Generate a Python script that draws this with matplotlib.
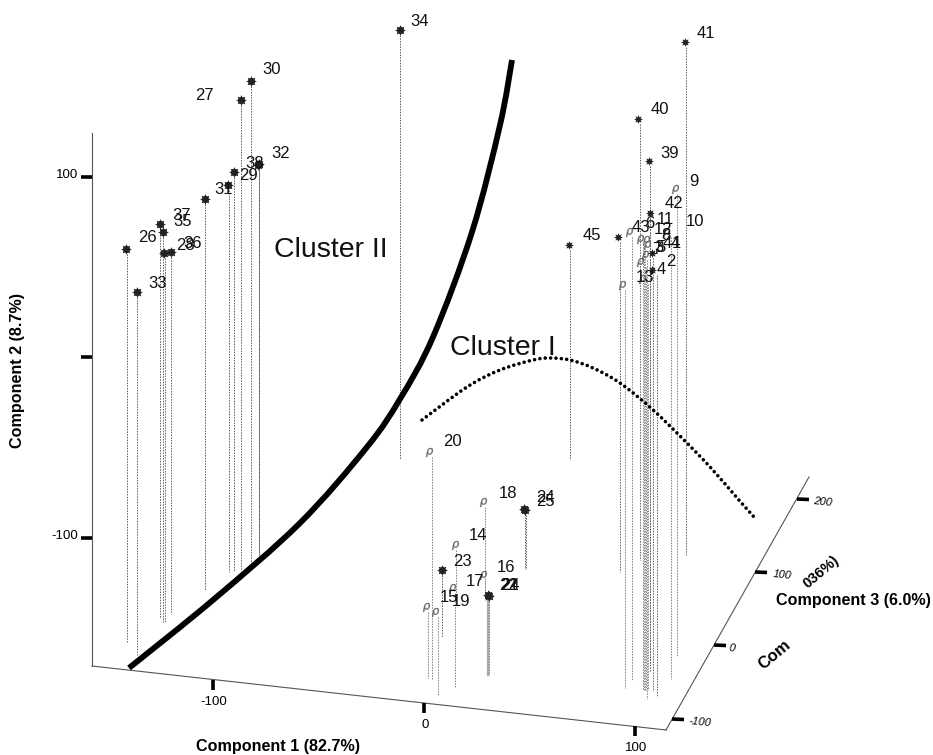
import matplotlib
matplotlib.use("Agg")
import matplotlib.pyplot as plt
from matplotlib.path import Path
from matplotlib.patches import PathPatch

plt.rcParams['font.family'] = ['Liberation Sans', 'DejaVu Sans']

# Projected 3-D scores (screen pixels of the printed plot)
big_x = [400, 251, 241, 259, 258, 234, 228, 205, 160, 163, 164, 171, 126, 137, 442, 524, 525, 488, 489]
big_y = [30, 81, 100, 164, 165, 172, 185, 199, 224, 232, 253, 252, 249, 292, 570, 509, 510, 595, 596]
big_stem = [400, 251, 241, 259, 259, 234, 229, 205, 160, 163, 165, 171, 127, 137, 442, 525, 526, 488, 489]
big_base = [459, 565, 570, 555, 555, 571, 572, 590, 618, 622, 622, 614, 642, 655, 637, 569, 569, 675, 675]

small_x = [569, 685, 638, 649, 650, 618, 652, 652]
small_y = [245, 42, 119, 161, 213, 237, 253, 270]
small_stem = [570, 686, 640, 650, 650, 620, 653, 657]
small_base = [460, 556, 560, 672, 665, 572, 691, 696]

open_x = [429, 483, 455, 483, 452, 426, 435, 675, 629, 622, 640, 647, 640, 645, 642, 666, 646]
open_y = [452, 502, 545, 575, 588, 607, 612, 189, 232, 285, 239, 245, 262, 255, 279, 232, 240]
open_stem = [432, 485, 456, 485, 455, 428, 438, 677, 632, 625, 643, 645, 646, 647, 648, 671, 644]
open_base = [680, 595, 600, 600, 687, 678, 695, 657, 680, 688, 690, 690, 690, 699, 690, 679, 690]

label_text = ['34', '41', '30', '27', '40', '39', '38', '32', '29', '31', '37', '35', '26', '28', '36', '33',
              '9', '42', '11', '10', '45', '43', '6', '12', '8', '5', '3', '7', '44', '2', '4', '13', '1',
              '20', '18', '24', '25', '14', '23', '17', '16', '22', '21', '24', '15', '19']
label_x = [420, 706, 272, 204, 660, 670, 255, 281, 249, 224, 182, 183, 147, 185, 193, 158,
           694, 674, 665, 695, 592, 641, 650, 663, 666, 661, 659, 657, 672, 671, 661, 645, 676,
           452, 508, 545, 545, 478, 462, 475, 506, 509, 509, 510, 449, 461]
label_y = [22, 33, 70, 96, 110, 153, 163, 154, 175, 190, 216, 222, 238, 245, 244, 283,
           181, 204, 220, 221, 235, 227, 224, 229, 235, 247, 247, 249, 244, 262, 270, 277, 244,
           442, 493, 497, 501, 536, 561, 581, 568, 585, 585, 586, 597, 601]

boundary_x = [129, 213, 300, 367, 400, 433, 472, 500, 512]
boundary_y = [668, 600, 523, 447, 399, 337, 232, 125, 60]
arc_x = [422, 467, 500, 533, 550, 570, 593, 620, 652, 682, 711, 738, 754]
arc_y = [420, 387, 370, 360, 358, 360, 368, 383, 409, 438, 468, 499, 517]

axis1_x = [92, 666]
axis1_y = [666, 730]
axis2_x = [92, 92]
axis2_y = [133, 666]
axis3_x = [666, 809]
axis3_y = [730, 477]


def smooth_path(xs, ys):
    """Catmull-Rom curve through the read points, as Bezier segments."""
    pts = list(zip(xs, ys))
    verts = [pts[0]]
    codes = [Path.MOVETO]
    for i in range(len(pts) - 1):
        p0 = pts[max(i - 1, 0)]
        p1 = pts[i]
        p2 = pts[i + 1]
        p3 = pts[min(i + 2, len(pts) - 1)]
        c1 = (p1[0] + (p2[0] - p0[0]) / 6, p1[1] + (p2[1] - p0[1]) / 6)
        c2 = (p2[0] - (p3[0] - p1[0]) / 6, p2[1] - (p3[1] - p1[1]) / 6)
        verts += [c1, c2, p2]
        codes += [Path.CURVE4] * 3
    return Path(verts, codes)


fig = plt.figure(figsize=(9.33, 7.55), dpi=100)
ax = fig.add_axes([0, 0, 1, 1])
ax.set_xlim(0, 933)
ax.set_ylim(755, 0)
ax.axis('off')

for xs, ys, base, col in [(big_stem, big_y, big_base, '#666666'),
                          (small_stem, small_y, small_base, '#666666'),
                          (open_stem, open_y, open_base, '#888888')]:
    for s, y, b in zip(xs, ys, base):
        ax.plot([s, s], [y + 5, b], color=col, lw=0.7, ls=(0, (1.6, 1.2)), zorder=1)
ax.plot([488, 488], [600, 675], color='#aaaaaa', lw=1.6, zorder=1)

for a, b in [(axis1_x, axis1_y), (axis2_x, axis2_y), (axis3_x, axis3_y)]:
    ax.plot(a, b, color='#555555', lw=0.8, zorder=2)

# Y ticks
for lab, y in zip(['100', '', '-100'], [177, 357, 538]):
    ax.plot([81, 92], [y, y], color='k', lw=2.6, solid_capstyle='butt', zorder=3)
    if lab:
        ax.text(78, y - 2, lab, ha='right', va='center', fontsize=9.5)
# X ticks
for lab, x, y0 in zip(['-100', '0', '100'], [213, 424, 635], [680, 703, 726]):
    ax.plot([x, x], [y0, y0 + 10], color='k', lw=2.6, solid_capstyle='butt', zorder=3)
    ax.text(x + 1, y0 + 22, lab, ha='center', va='center', fontsize=9.5)
# Z ticks
for lab, x, y, lx in zip(['-100', '0', '100', '200'], [672, 714, 755, 797], [719, 645, 572, 499], [700, 732, 782, 823]):
    ax.plot([x, x + 12], [y, y + 0.5], color='k', lw=2.6, solid_capstyle='butt', zorder=3)
    ax.text(lx, y + 3, lab, ha='center', va='center', fontsize=8, style='italic', rotation=-6)

ax.add_patch(PathPatch(smooth_path(boundary_x, boundary_y), fc='none', ec='k', lw=4.2, capstyle='butt', zorder=4))
ax.add_patch(PathPatch(smooth_path(arc_x, arc_y), fc='none', ec='k', lw=2.6, ls=(0, (0.01, 1.48)), capstyle='round', zorder=4))

ax.plot(open_x, open_y, ls='none', marker='$\\rho$', ms=6.5, color='#666666', mew=0.2, zorder=5)
ax.plot(small_x, small_y, ls='none', marker=(8, 1, 0), ms=5.5, mfc='#222222', mec='#222222', mew=0.4, zorder=5)
ax.plot(big_x, big_y, ls='none', marker=(8, 1, 0), ms=7, mfc='#222222', mec='#222222', mew=0.4, zorder=5)
ax.plot(big_x, big_y, ls='none', marker='o', ms=5, mfc='#222222', mec='none', zorder=5)

for t, x, y in zip(label_text, label_x, label_y):
    ax.text(x, y, t, ha='center', va='center', fontsize=12, color='#111111', zorder=6)

ax.text(331, 250, 'Cluster II', ha='center', va='center', fontsize=20.5, color='#111111')
ax.text(503, 348, 'Cluster I', ha='center', va='center', fontsize=20.5, color='#111111')

ax.text(278, 746, 'Component 1 (82.7%)', ha='center', va='center', fontsize=11.6, fontweight='bold')
ax.text(18, 371, 'Component 2 (8.7%)', ha='center', va='center', rotation=90, fontsize=11.6, fontweight='bold')
ax.text(853, 601, 'Component 3 (6.0%)', ha='center', va='center', fontsize=11.6, fontweight='bold')
ax.text(775, 655, 'Com', ha='center', va='center', rotation=40, fontsize=12, fontweight='bold')
ax.text(821, 572, '036%)', ha='center', va='center', rotation=40, fontsize=10.5, fontweight='bold')

fig.savefig('out.png', dpi=100)
